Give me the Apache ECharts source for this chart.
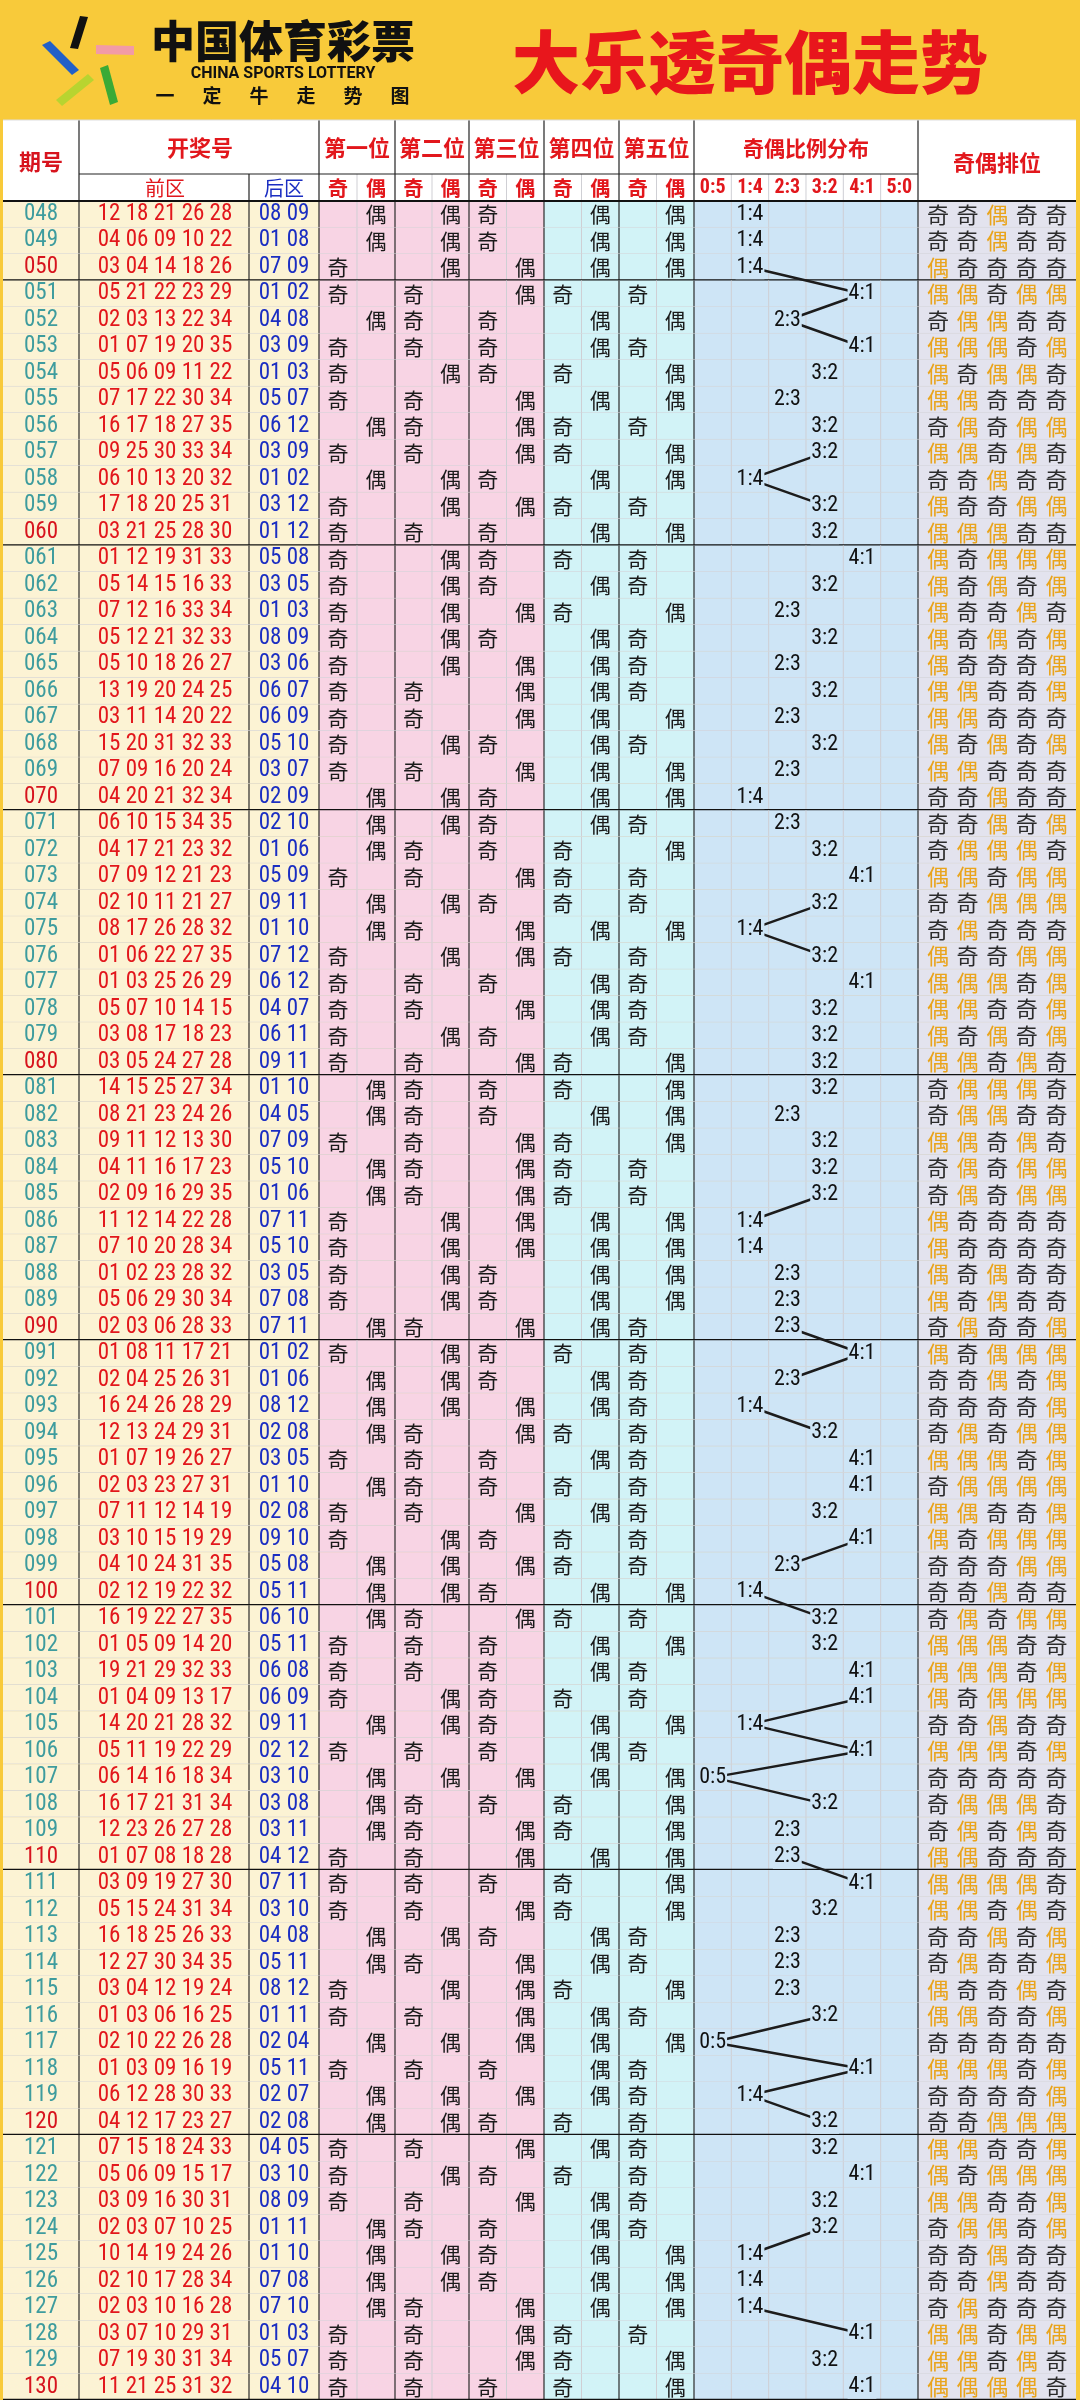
<!DOCTYPE html>
<html><head><meta charset="utf-8">
<script src="https://cdn.jsdelivr.net/npm/echarts@6/dist/echarts.min.js"></script>
<style>html,body{margin:0;padding:0;background:#F8CA3A}#c{width:1080px;height:2400px}</style>
</head><body><div id="c"></div>
<script>
const periods = ['048','049','050','051','052','053','054','055','056','057','058','059','060','061','062','063','064','065','066','067','068','069','070','071','072','073','074','075','076','077','078','079','080','081','082','083','084','085','086','087','088','089','090','091','092','093','094','095','096','097','098','099','100','101','102','103','104','105','106','107','108','109','110','111','112','113','114','115','116','117','118','119','120','121','122','123','124','125','126','127','128','129','130'];
const frontNums = [
[12,18,21,26,28],[4,6,9,10,22],[3,4,14,18,26],[5,21,22,23,29],[2,3,13,22,34],[1,7,19,20,35],[5,6,9,11,22],[7,17,22,30,34],[16,17,18,27,35],[9,25,30,33,34],
[6,10,13,20,32],[17,18,20,25,31],[3,21,25,28,30],[1,12,19,31,33],[5,14,15,16,33],[7,12,16,33,34],[5,12,21,32,33],[5,10,18,26,27],[13,19,20,24,25],[3,11,14,20,22],
[15,20,31,32,33],[7,9,16,20,24],[4,20,21,32,34],[6,10,15,34,35],[4,17,21,23,32],[7,9,12,21,23],[2,10,11,21,27],[8,17,26,28,32],[1,6,22,27,35],[1,3,25,26,29],
[5,7,10,14,15],[3,8,17,18,23],[3,5,24,27,28],[14,15,25,27,34],[8,21,23,24,26],[9,11,12,13,30],[4,11,16,17,23],[2,9,16,29,35],[11,12,14,22,28],[7,10,20,28,34],
[1,2,23,28,32],[5,6,29,30,34],[2,3,6,28,33],[1,8,11,17,21],[2,4,25,26,31],[16,24,26,28,29],[12,13,24,29,31],[1,7,19,26,27],[2,3,23,27,31],[7,11,12,14,19],
[3,10,15,19,29],[4,10,24,31,35],[2,12,19,22,32],[16,19,22,27,35],[1,5,9,14,20],[19,21,29,32,33],[1,4,9,13,17],[14,20,21,28,32],[5,11,19,22,29],[6,14,16,18,34],
[16,17,21,31,34],[12,23,26,27,28],[1,7,8,18,28],[3,9,19,27,30],[5,15,24,31,34],[16,18,25,26,33],[12,27,30,34,35],[3,4,12,19,24],[1,3,6,16,25],[2,10,22,26,28],
[1,3,9,16,19],[6,12,28,30,33],[4,12,17,23,27],[7,15,18,24,33],[5,6,9,15,17],[3,9,16,30,31],[2,3,7,10,25],[10,14,19,24,26],[2,10,17,28,34],[2,3,10,16,28],
[3,7,10,29,31],[7,19,30,31,34],[11,21,25,31,32]];
const backNums = [
[8,9],[1,8],[7,9],[1,2],[4,8],[3,9],[1,3],[5,7],[6,12],[3,9],
[1,2],[3,12],[1,12],[5,8],[3,5],[1,3],[8,9],[3,6],[6,7],[6,9],
[5,10],[3,7],[2,9],[2,10],[1,6],[5,9],[9,11],[1,10],[7,12],[6,12],
[4,7],[6,11],[9,11],[1,10],[4,5],[7,9],[5,10],[1,6],[7,11],[5,10],
[3,5],[7,8],[7,11],[1,2],[1,6],[8,12],[2,8],[3,5],[1,10],[2,8],
[9,10],[5,8],[5,11],[6,10],[5,11],[6,8],[6,9],[9,11],[2,12],[3,10],
[3,8],[3,11],[4,12],[7,11],[3,10],[4,8],[5,11],[8,12],[1,11],[2,4],
[5,11],[2,7],[2,8],[4,5],[3,10],[8,9],[1,11],[1,10],[7,8],[7,10],
[1,3],[5,7],[4,10]];
const ratioLabels = ['0:5','1:4','2:3','3:2','4:1','5:0'];
const positionNames = ['第一位','第二位','第三位','第四位','第五位'];
// periods where a trend segment starts (connects to next period)
const linkStarts = ['050','051','052','057','058','074','075','085','090','091','093','098','100','104','105','106','107','110','116','117','118','119','124','127'];

// ---- layout ----
const TOP = 201, ROWH = 26.7;
const E = {l:3, p:79, f:249, b:319, pos:[319,395,469,544,619,694], r:694, rw:37.33, s:918, rr:1076};
const NARROW = "'Liberation Sans Narrow','Arial Narrow','Roboto Condensed',sans-serif";
const CJK = "'Noto Sans CJK SC',sans-serif";
const pad = n => String(n).padStart(2,'0');
const odd = n => n % 2 === 1;
const oddCount = i => frontNums[i].filter(odd).length;
const ratioX = i => E.r + E.rw*(oddCount(i)+0.5);

const runs = []; let cur = null;
periods.forEach((p,i)=>{
  if (linkStarts.includes(p)) { if(!cur){cur=[i];runs.push(cur);} cur.push(i+1);} else { cur=null; }
});

const chart = echarts.init(document.getElementById('c'));
const rowData = periods.map((p,i)=>[0,i]);

function bgItem(params, api){
  const i = api.value(1);
  const c = api.coord([0,i]); const h = api.size([0,1])[1];
  const y0 = c[1]-h/2;
  const X = x => api.coord([x,i])[0];
  const ch = [];
  const bands = [[E.l,E.p,'#FCF3D4'],[E.p,E.b,'#FCF3D4'],[E.b,E.pos[3],'#F8D4E4'],[E.pos[3],E.r,'#D2F3F7'],[E.r,E.s,'#CEE5F6'],[E.s,E.rr,'#E3E3EE']];
  bands.forEach(b=>ch.push({type:'rect',shape:{x:X(b[0]),y:y0,width:X(b[1])-X(b[0]),height:h},style:{fill:b[2]}}));
  const light = [];
  for(let k=0;k<5;k++) light.push((E.pos[k]+E.pos[k+1])/2);
  for(let k=1;k<6;k++) light.push(E.r+E.rw*k);
  light.forEach(x=>ch.push({type:'line',shape:{x1:X(x),y1:y0,x2:X(x),y2:y0+h},style:{stroke:'#CFCFD4',lineWidth:1}}));
  [E.p,E.f,E.b,...E.pos.slice(1),E.s].forEach(x=>ch.push({type:'line',shape:{x1:X(x),y1:y0,x2:X(x),y2:y0+h},style:{stroke:'#2a2a2a',lineWidth:1.2}}));
  const tens = periods[i].endsWith('0');
  ch.push({type:'line',shape:{x1:X(E.l),y1:y0+h,x2:X(E.rr),y2:y0+h},style:{stroke:tens?'#111':'#D3D3D8',lineWidth:tens?2.5:1}});
  return {type:'group',children:ch};
}

function textItem(params, api){
  const i = api.value(1);
  const c = api.coord([0,i]); const y = c[1];
  const X = x => api.coord([x,i])[0];
  const ch = [];
  const t = (x,text,font,fill,extra)=>ch.push({type:'text',style:Object.assign({x:X(x),y:y,text:text,font:font,fill:fill,align:'center',verticalAlign:'middle'},extra||{})});
  const p = periods[i];
  t(41,p,'23px '+NARROW,p.endsWith('0')?'#D7141E':'#3E9C9E');
  t(165,frontNums[i].map(pad).join(' '),'23px '+NARROW,'#E2171C');
  t(284,backNums[i].map(pad).join(' '),'23px '+NARROW,'#1B2EC2');
  frontNums[i].forEach((n,k)=>{
    const o = odd(n);
    const cx = o ? (E.pos[k]*3+E.pos[k+1])/4 : (E.pos[k]+E.pos[k+1]*3)/4;
    t(cx,o?'奇':'偶','21px '+CJK,'#1a1a1a');
  });
  const oc = oddCount(i);
  t(ratioX(i),ratioLabels[oc],'22px '+NARROW,'#111',{backgroundColor:'#CEE5F6',padding:[1,1]});
  frontNums[i].forEach((n,k)=>{
    const o = odd(n);
    t(938+29.6*k,o?'偶':'奇','22px '+CJK,o?'#E9A41C':'#2b2b2b');
  });
  return {type:'group',children:ch};
}

const series = [
  {type:'custom',z:1,silent:true,data:rowData,encode:{x:0,y:1},renderItem:bgItem,clip:false},
  ...runs.map(r=>({type:'line',z:2,silent:true,symbol:'none',animation:false,
     data:r.map(i=>[ratioX(i),periods[i]]),lineStyle:{color:'#1c1c1c',width:2.5}})),
  {type:'custom',z:3,silent:true,data:rowData,encode:{x:0,y:1},renderItem:textItem,clip:false}
];

const G = [];
const gt = (x,y,text,font,fill)=>G.push({type:'text',x:x,y:y,style:{text:text,font:font,fill:fill,align:'center',verticalAlign:'middle'},z:10});
const gl = (x1,y1,x2,y2,c,w)=>G.push({type:'line',shape:{x1,y1,x2,y2},style:{stroke:c,lineWidth:w},z:10});
G.push({type:'rect',shape:{x:E.l,y:120,width:E.rr-E.l,height:TOP-120},style:{fill:'#fff'},z:9});
G.push({type:'polygon',shape:{points:[[80,16],[88,17],[78,49],[70,48]]},style:{fill:'#111'},z:10});
G.push({type:'polygon',shape:{points:[[96,45],[134,46],[134,55],[96,54]]},style:{fill:'#F29BA6'},z:10});
G.push({type:'polygon',shape:{points:[[42,45],[50,41],[79,70],[72,75]]},style:{fill:'#2160C8'},z:10});
G.push({type:'polygon',shape:{points:[[100,68],[108,65],[118,102],[110,105]]},style:{fill:'#3BAA36'},z:10});
G.push({type:'polygon',shape:{points:[[56,100],[88,74],[94,80],[62,106]]},style:{fill:'#B8D430'},z:10});
gt(283,41,'中国体育彩票','900 44px '+CJK,'#111');
gt(283,74,'CHINA SPORTS LOTTERY','bold 16px Roboto,sans-serif','#111');
['一','定','牛','走','势','图'].forEach((c,k)=>gt(165+47*k,96,c,'bold 19px '+CJK,'#111'));
gt(750,62,'大乐透奇偶走势','900 68px '+CJK,'#E8161C');
gt(41,162,'期号','bold 22px '+CJK,'#D7141E');
gt(200,148,'开奖号','bold 22px '+CJK,'#E2171C');
gt(165,188,'前区','20px '+CJK,'#E2171C');
gt(284,188,'后区','20px '+CJK,'#1B2EC2');
positionNames.forEach((n,k)=>{
  gt((E.pos[k]+E.pos[k+1])/2,148,n,'bold 22px '+CJK,'#E2171C');
  gt((E.pos[k]*3+E.pos[k+1])/4,188,'奇','bold 20px '+CJK,'#E2171C');
  gt((E.pos[k]+E.pos[k+1]*3)/4,188,'偶','bold 20px '+CJK,'#E2171C');
  gl((E.pos[k]+E.pos[k+1])/2,174,(E.pos[k]+E.pos[k+1])/2,TOP,'#CFCFD4',1);
});
gt(806,148,'奇偶比例分布','bold 21px '+CJK,'#E2171C');
ratioLabels.forEach((r,k)=>{gt(E.r+E.rw*(k+0.5),188,r,'bold 20px '+NARROW,'#E2171C'); if(k) gl(E.r+E.rw*k,174,E.r+E.rw*k,TOP,'#CFCFD4',1);});
gt(997,163,'奇偶排位','bold 22px '+CJK,'#E2171C');
gl(E.p,174,E.s,174,'#222',1.2);
[E.p,E.b,...E.pos.slice(1),E.s].forEach(x=>gl(x,120,x,TOP,'#222',1.2));
gl(E.f,174,E.f,TOP,'#222',1.2);
gl(E.l,TOP,E.rr,TOP,'#111',2);
gl(E.l,120,E.rr,120,'#ddd',1);

chart.setOption({
  animation:false,
  backgroundColor:'#F8CA3A',
  grid:{left:0,right:0,top:TOP,height:ROWH*periods.length},
  xAxis:{type:'value',min:0,max:1080,show:false},
  yAxis:{type:'category',data:periods,inverse:true,show:false},
  graphic:G,
  series:series
});
</script></body></html>
